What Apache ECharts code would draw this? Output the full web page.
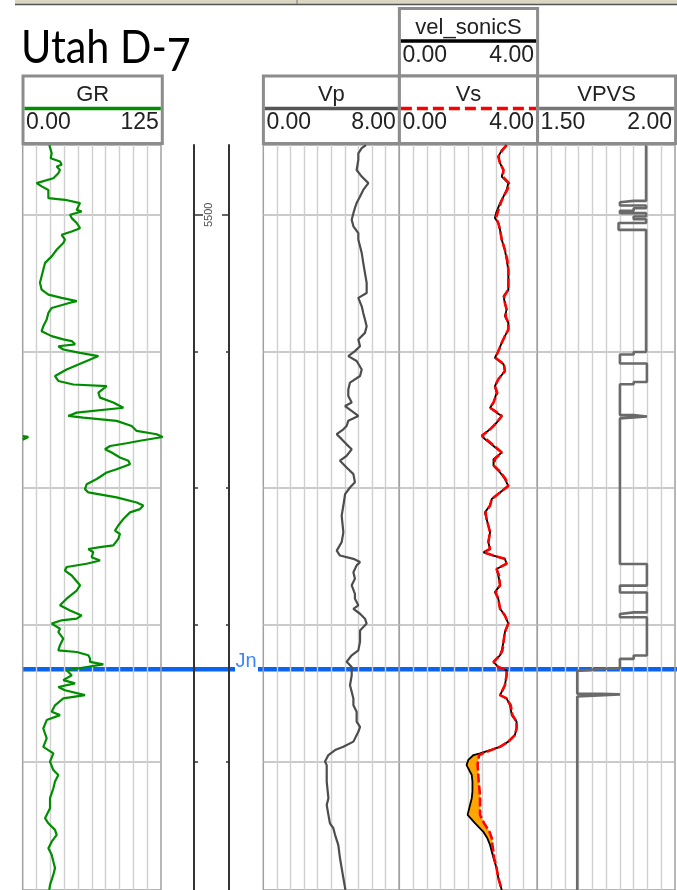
<!DOCTYPE html>
<html><head><meta charset="utf-8">
<script src="https://cdn.jsdelivr.net/npm/echarts@6/dist/echarts.min.js"></script>
<style>html,body{margin:0;padding:0;background:#fff}#c{width:677px;height:890px}</style>
</head><body><div id="c"></div>
<script>
// ---------------- DATA ----------------
const depthGridLines = [5500, 5550, 5600, 5650, 5700];
const depthLabels = [5500];
const tops = [{ name: 'Jn', depth: 5666.3 }];

const grScale = [0, 125], vpScale = [0, 8], vsScale = [0, 4], vpvsScale = [1.5, 2.0];
const grScaleLabels = ['0.00', '125'];
const vpScaleLabels = ['0.00', '8.00'];
const vsScaleLabels = ['0.00', '4.00'];
const velScaleLabels = ['0.00', '4.00'];
const vpvsScaleLabels = ['1.50', '2.00'];

const grDepth = [5474.5,5475.0,5477.5,5479.3,5480.5,5481.7,5482.3,5483.6,5484.8,5486.6,5488.4,5489.6,5490.9,5493.9,5494.5,5495.7,5496.9,5498.2,5498.8,5500.0,5501.2,5503.0,5504.9,5506.1,5507.3,5509.1,5510.3,5512.8,5515.2,5517.6,5520.1,5522.5,5524.9,5527.4,5529.2,5530.4,5531.6,5532.2,5534.1,5535.9,5538.3,5540.8,5542.6,5544.4,5545.6,5546.2,5547.4,5548.1,5549.3,5550.5,5551.7,5553.5,5556.6,5559.0,5560.8,5562.1,5562.7,5565.1,5566.9,5568.7,5570.6,5572.4,5573.6,5574.2,5575.4,5577.3,5579.1,5580.3,5581.3,5582.7,5583.6,5584.6,5585.8,5587.0,5588.8,5590.0,5591.3,5593.1,5594.3,5596.7,5598.6,5600.4,5601.6,5603.4,5605.3,5606.4,5607.7,5608.9,5611.3,5613.7,5615.6,5616.8,5618.6,5621.0,5621.6,5622.3,5623.5,5625.3,5626.5,5627.7,5628.9,5630.2,5632.0,5635.6,5637.5,5640.5,5642.9,5644.8,5646.6,5647.8,5648.4,5649.6,5651.5,5652.7,5655.1,5657.5,5659.4,5660.0,5661.2,5662.4,5663.6,5664.5,5665.5,5666.7,5668.5,5670.3,5671.5,5672.8,5674.0,5675.8,5677.0,5679.5,5681.9,5683.1,5684.9,5688.0,5691.6,5694.7,5697.1,5700.1,5703.2,5705.0,5707.4,5709.9,5713.5,5717.2,5720.8,5722.7,5725.1,5726.9,5729.4,5731.8,5734.2,5736.7,5739.1,5741.5,5745.2,5747.1];
const grValues = [24.1,24.7,26.2,25.3,33.7,35.2,30.7,33.7,32.2,27.7,12.6,17.1,23.2,23.2,38.2,51.8,50.3,48.8,53.3,42.8,44.3,48.8,51.8,44.3,35.2,38.2,36.7,30.7,26.2,20.2,18.6,17.1,15.6,17.1,23.2,35.2,48.8,42.8,26.2,23.2,21.7,18.6,17.1,26.2,36.7,44.3,47.3,32.2,36.7,51.8,68.4,57.8,39.7,29.2,32.2,45.8,75.9,68.4,69.9,81.9,91.0,48.8,41.2,54.8,84.9,98.5,103.0,121.1,126.5,106.0,94.0,78.9,74.4,80.4,87.9,95.5,97.0,84.9,75.9,66.9,57.8,56.3,59.3,84.9,103.0,109.0,106.0,97.0,91.0,86.4,83.4,87.9,86.4,81.9,69.9,59.3,63.8,62.3,69.9,57.8,39.7,38.2,44.3,51.8,48.8,39.7,33.7,42.8,53.3,48.8,35.2,26.2,33.7,32.2,36.7,33.7,32.2,48.8,59.3,60.8,60.8,72.9,57.8,39.7,44.3,36.7,47.3,32.2,38.2,56.3,36.7,29.2,26.2,33.7,21.7,18.6,21.7,18.6,27.7,24.7,27.7,32.2,29.2,27.7,24.7,24.7,20.2,23.2,29.2,30.7,26.2,23.2,26.2,27.7,29.2,27.7,24.7,24.0];
// GR wrapped beyond 125 (backup scale)
const grWrapDepth = [5581.0, 5581.3, 5582.0, 5582.3];
const grWrapValues = [0, 5, 5, 0];

const vpDepth = [5474.5,5475.6,5477.5,5479.9,5483.6,5486.0,5488.4,5490.9,5493.3,5495.7,5497.5,5499.4,5501.8,5504.2,5506.7,5509.1,5511.5,5514.0,5517.6,5521.3,5524.9,5528.6,5530.4,5533.5,5535.9,5538.3,5540.8,5543.2,5545.6,5548.1,5549.9,5551.7,5553.5,5556.6,5559.0,5561.4,5563.9,5566.3,5568.7,5570.0,5573.6,5575.4,5577.3,5578.5,5580.3,5582.1,5584.0,5585.8,5588.2,5590.0,5592.5,5594.9,5597.9,5599.8,5602.2,5606.4,5610.1,5616.2,5619.8,5622.9,5624.7,5625.9,5627.1,5628.3,5630.8,5633.2,5635.6,5638.7,5640.5,5642.9,5644.2,5646.0,5647.8,5649.6,5652.1,5656.3,5659.4,5661.2,5663.6,5665.5,5668.5,5672.2,5677.0,5679.5,5681.9,5685.5,5687.4,5689.2,5692.8,5694.7,5695.9,5697.7,5700.1,5701.4,5707.4,5713.5,5716.0,5719.6,5722.7,5724.5,5726.9,5730.6,5735.4,5739.1,5742.7,5747.1];
const vpValues = [6.04,5.79,5.59,5.59,5.49,5.79,6.18,5.88,5.69,5.49,5.39,5.30,5.20,5.30,5.59,5.59,5.69,5.79,5.88,5.98,6.08,6.08,5.59,5.79,5.88,5.98,6.08,5.98,5.59,5.69,5.39,5.00,5.49,5.79,5.69,5.10,5.00,5.00,5.20,4.81,5.59,5.00,4.90,4.71,4.32,4.61,4.90,5.20,4.90,4.51,4.90,5.30,5.39,5.10,4.81,4.71,4.61,4.71,4.61,4.32,4.51,5.30,5.69,5.49,5.30,5.39,5.20,5.39,5.39,5.59,5.30,5.69,5.98,6.08,5.69,5.69,5.59,5.20,4.90,5.20,5.20,5.10,5.30,5.30,5.49,5.49,5.69,5.59,5.30,4.71,4.22,3.83,3.63,3.73,3.73,3.83,3.73,3.83,3.92,4.12,4.22,4.41,4.51,4.61,4.71,4.83];

const vsDepth = [5474.5,5476.3,5478.7,5481.1,5483.6,5486.0,5488.4,5490.9,5493.3,5495.7,5498.8,5501.2,5503.0,5505.5,5509.1,5512.8,5516.4,5520.1,5523.7,5527.4,5529.8,5532.2,5534.7,5537.1,5539.5,5542.0,5544.4,5546.8,5549.9,5552.3,5554.7,5557.2,5560.2,5562.7,5565.1,5568.7,5570.6,5572.4,5573.6,5576.1,5578.5,5580.9,5582.1,5584.6,5587.0,5589.4,5591.9,5594.3,5596.7,5599.2,5601.6,5604.0,5606.4,5608.9,5611.3,5613.7,5616.2,5619.8,5622.3,5623.5,5624.7,5625.9,5627.7,5629.6,5632.0,5635.6,5638.1,5640.5,5644.2,5646.6,5649.6,5652.7,5656.3,5659.4,5661.2,5663.6,5665.5,5666.7,5668.5,5672.2,5675.8,5677.0,5679.5,5683.1,5685.5,5688.0,5690.4,5692.8,5694.7,5695.9,5697.1,5697.7,5699.5,5701.4,5705.0,5707.4,5711.1,5713.5,5716.0,5719.6,5722.7,5725.7,5728.1,5730.6,5735.4,5739.1,5742.7,5747.1];
const velSonicS = [3.11,2.97,2.87,2.92,3.02,2.97,3.16,3.11,3.02,2.92,2.82,2.77,2.87,2.92,2.97,3.06,3.11,3.16,3.16,3.16,3.02,3.06,3.11,3.06,3.16,3.16,3.06,2.97,2.87,2.77,3.02,3.06,2.87,2.77,2.82,2.73,2.63,2.82,2.97,2.82,2.63,2.39,2.48,2.73,2.97,2.73,2.73,2.92,3.06,3.16,2.92,2.68,2.63,2.48,2.53,2.58,2.63,2.58,2.63,2.44,2.73,3.06,3.11,2.82,2.87,2.92,2.77,2.87,2.92,3.06,3.16,3.06,3.02,2.97,2.92,2.73,2.87,3.11,3.11,3.06,2.92,3.11,3.21,3.26,3.40,3.40,3.35,3.16,2.92,2.63,2.34,2.15,2.00,1.95,2.10,2.12,2.12,2.10,2.05,1.98,2.20,2.43,2.55,2.63,2.73,2.82,2.87,2.97];
const vsValues = [3.11,2.99,2.87,2.92,3.02,3.00,3.18,3.13,3.02,2.94,2.86,2.80,2.87,2.92,2.97,3.06,3.13,3.16,3.16,3.16,3.04,3.06,3.11,3.08,3.16,3.16,3.06,2.97,2.87,2.79,3.04,3.06,2.87,2.77,2.84,2.73,2.63,2.84,2.97,2.82,2.63,2.39,2.52,2.75,2.97,2.77,2.75,2.94,3.08,3.16,2.92,2.68,2.63,2.50,2.53,2.58,2.63,2.58,2.63,2.44,2.73,3.06,3.11,2.82,2.89,2.92,2.79,2.87,2.92,3.06,3.16,3.06,3.02,2.99,2.92,2.73,2.87,3.11,3.11,3.06,2.92,3.11,3.23,3.28,3.40,3.40,3.35,3.16,2.92,2.66,2.42,2.32,2.28,2.27,2.29,2.30,2.33,2.34,2.34,2.34,2.46,2.61,2.68,2.70,2.75,2.82,2.87,2.97];

const vpvsDepth = [5474.5,5494.9,5494.9,5495.4,5495.4,5496.6,5496.6,5497.6,5497.6,5498.5,5498.5,5499.4,5499.4,5500.6,5500.6,5501.6,5501.6,5503.0,5503.0,5505.5,5505.5,5550.2,5550.2,5551.1,5551.1,5554.4,5554.4,5561.2,5561.2,5562.0,5562.0,5573.3,5573.3,5573.8,5573.8,5574.5,5574.5,5627.8,5627.8,5635.7,5635.7,5638.2,5638.2,5645.5,5645.5,5646.1,5646.1,5647.3,5647.3,5661.3,5661.3,5662.5,5662.5,5666.0,5666.2,5666.6,5666.9,5675.3,5675.3,5675.5,5675.5,5676.0,5676.3,5747.1];
const vpvsValues = [1.895,1.895,1.85,1.85,1.80,1.80,1.895,1.895,1.85,1.85,1.80,1.80,1.895,1.895,1.85,1.85,1.895,1.895,1.795,1.795,1.895,1.895,1.85,1.85,1.80,1.80,1.898,1.898,1.85,1.85,1.80,1.80,1.85,1.85,1.898,1.898,1.80,1.80,1.898,1.898,1.80,1.80,1.898,1.898,1.85,1.85,1.80,1.80,1.898,1.898,1.85,1.85,1.80,1.80,1.728,1.728,1.645,1.645,1.728,1.728,1.80,1.80,1.645,1.645];

// ---------------- LAYOUT ----------------
const TOP = 145, PLOT_H = 747;
const depthMin = 5474.45, depthMax = 5747.1;
const tracks = [
  { left: 22.7, width: 138.3, scale: grScale, split: 12.5, border: true },
  { left: 194, width: 35, scale: [0, 1], split: null, border: false },
  { left: 263.3, width: 136, scale: vpScale, split: 0.8, border: true },
  { left: 399.3, width: 138, scale: vsScale, split: 0.4, border: true },
  { left: 537.3, width: 137.7, scale: vpvsScale, split: 0.05, border: true },
  { left: 0, width: 677, scale: [0, 1], split: null, border: false }
];

const grid = tracks.map(t => ({
  left: t.left, width: t.width, top: TOP, height: PLOT_H,
  show: t.border, borderColor: '#a0a0a0', borderWidth: 1.5, backgroundColor: 'transparent'
}));

const xAxis = tracks.map((t, i) => t.split ? {
  gridIndex: i, type: 'value', min: t.scale[0], max: t.scale[1], interval: t.split,
  axisLine: { show: false }, axisTick: { show: false }, axisLabel: { show: false },
  splitLine: { show: true, showMinLine: false, showMaxLine: false, lineStyle: { color: '#cfcfcf', width: 1.4 } }
} : { gridIndex: i, type: 'value', min: t.scale[0], max: t.scale[1], show: false });

function depthAxis(gi, extra) {
  return Object.assign({
    gridIndex: gi, type: 'value', inverse: true, min: depthMin, max: depthMax,
    axisLine: { show: false }, axisLabel: { show: false },
    axisTick: { show: false, customValues: depthGridLines },
    splitLine: { show: true, lineStyle: { color: '#b9b9b9', width: 1.6 } }
  }, extra || {});
}
const yAxis = [
  depthAxis(0),                                  // 0 GR
  depthAxis(1, { position: 'left', axisLine: { show: true, onZero: false, lineStyle: { color: '#333', width: 2 } },
    axisTick: { show: true, inside: true, length: 4, customValues: depthGridLines, lineStyle: { color: '#333', width: 1.5 } }, splitLine: { show: false } }), // 1
  depthAxis(1, { position: 'right', axisLine: { show: true, onZero: false, lineStyle: { color: '#333', width: 2 } },
    axisTick: { show: true, inside: true, length: 3, customValues: depthGridLines, lineStyle: { color: '#333', width: 1.5 } }, splitLine: { show: false } }), // 2
  depthAxis(1, { position: 'left', axisTick: { show: true, inside: true, length: 9, customValues: depthLabels, lineStyle: { color: '#333', width: 1.5 } }, splitLine: { show: false } }), // 3
  depthAxis(1, { position: 'right', axisTick: { show: true, inside: true, length: 7, customValues: depthLabels, lineStyle: { color: '#333', width: 1.5 } }, splitLine: { show: false } }), // 4
  depthAxis(2), // 5 Vp
  depthAxis(3), // 6 Vs
  depthAxis(4), // 7 VPVS
  depthAxis(5, { show: false, splitLine: { show: false } }) // 8 full
];

const pairs = (vals, deps) => deps.map((d, i) => [vals[i], d]);

const series = [
  { type: 'line', name: 'GR', xAxisIndex: 0, yAxisIndex: 0, data: pairs(grValues, grDepth), symbol: 'none',
    lineStyle: { color: '#008e00', width: 2.2 }, z: 3 },
  { type: 'line', name: 'GR wrap', xAxisIndex: 0, yAxisIndex: 0, data: pairs(grWrapValues, grWrapDepth), symbol: 'none',
    lineStyle: { color: '#008e00', width: 2.5 }, z: 3 },
  { type: 'scatter', name: 'depth', xAxisIndex: 1, yAxisIndex: 1, data: depthLabels.map(d => [0.5, d]), symbolSize: 1,
    itemStyle: { color: 'rgba(0,0,0,0)' },
    label: { show: true, position: 'inside', rotate: 90, offset: [0, -3], formatter: p => String(p.value[1]),
      fontFamily: 'Liberation Sans', fontSize: 11, color: '#222' } },
  { type: 'line', name: 'Vp', xAxisIndex: 2, yAxisIndex: 5, data: pairs(vpValues, vpDepth), symbol: 'none',
    lineStyle: { color: '#4d4d4d', width: 2.2 }, z: 3 },
  { type: 'custom', name: 'fill', xAxisIndex: 3, yAxisIndex: 6,
    data: vsDepth.map((d, i) => [d, velSonicS[i], vsValues[i]]),
    encode: { x: [1, 2], y: 0 }, z: 2,
    renderItem: (params, api) => {
      const i = params.dataIndex;
      if (i >= vsDepth.length - 1) return null;
      const pts = [
        api.coord([velSonicS[i], vsDepth[i]]), api.coord([velSonicS[i + 1], vsDepth[i + 1]]),
        api.coord([vsValues[i + 1], vsDepth[i + 1]]), api.coord([vsValues[i], vsDepth[i]])
      ];
      return { type: 'polygon', shape: { points: pts }, style: { fill: '#ffa500', stroke: '#ffa500', lineWidth: 0.6 } };
    } },
  { type: 'line', name: 'vel_sonicS', xAxisIndex: 3, yAxisIndex: 6, data: pairs(velSonicS, vsDepth), symbol: 'none',
    lineStyle: { color: '#000', width: 1.8 }, z: 3 },
  { type: 'line', name: 'Vs', xAxisIndex: 3, yAxisIndex: 6, data: pairs(vsValues, vsDepth), symbol: 'none',
    lineStyle: { color: '#ff0000', width: 2.6, type: [9, 3] }, z: 4 },
  { type: 'line', name: 'VPVS', xAxisIndex: 4, yAxisIndex: 7, data: pairs(vpvsValues, vpvsDepth), symbol: 'none',
    lineStyle: { color: '#6a6a6a', width: 2.6 }, z: 3 },
  { type: 'custom', name: 'tops', xAxisIndex: 5, yAxisIndex: 8, data: tops.map(t => [t.depth]),
    encode: { y: 0 }, z: -1,
    renderItem: (params, api) => {
      const y = api.coord([0, api.value(0)])[1];
      const st = { stroke: '#0b63f2', lineWidth: 4.5 };
      return { type: 'group', children: [
        { type: 'line', shape: { x1: 22, y1: y, x2: 235, y2: y }, style: st },
        { type: 'line', shape: { x1: 258, y1: y, x2: 677, y2: y }, style: st },
        { type: 'text', style: { text: tops[params.dataIndex].name, x: 235.5, y: y + 2, verticalAlign: 'bottom',
          font: '20px "Liberation Sans"', fill: '#3c86ff' } }
      ] };
    } }
];

// ---------------- HEADERS (decoration) ----------------
const headers = [
  { name: 'vel_sonicS', labels: velScaleLabels, x: 399.4, w: 138.2, top: 8.5, color: '#000000' },
  { name: 'GR', labels: grScaleLabels, x: 23, w: 139.3, top: 76, color: '#008e00' },
  { name: 'Vp', labels: vpScaleLabels, x: 263.4, w: 136, top: 76, color: '#555555' },
  { name: 'Vs', labels: vsScaleLabels, x: 399.4, w: 138.2, top: 76, color: '#ff0000', dash: [11, 5] },
  { name: 'VPVS', labels: vpvsScaleLabels, x: 537.6, w: 138, top: 76, color: '#777777' }
];
const graphic = [
  { type: 'rect', shape: { x: 15, y: 0, width: 662, height: 4 }, style: { fill: '#dcd7c2' } },
  { type: 'line', shape: { x1: 15, y1: 4.5, x2: 677, y2: 4.5 }, style: { stroke: '#555', lineWidth: 1.5 } },
  { type: 'line', shape: { x1: 297, y1: 0, x2: 297, y2: 4 }, style: { stroke: '#777', lineWidth: 1 } }
];
headers.forEach(h => {
  graphic.push({ type: 'rect', shape: { x: h.x, y: h.top, width: h.w, height: 67.5 },
    style: { fill: '#fff', stroke: '#8c8c8c', lineWidth: 3 } });
  graphic.push({ type: 'text', style: { text: h.name, x: h.x + h.w / 2, y: h.top + 19, align: 'center', verticalAlign: 'middle',
    font: '22px "Liberation Sans"', fill: '#222' } });
  graphic.push({ type: 'line', shape: { x1: h.x + 1.5, y1: h.top + 32.5, x2: h.x + h.w - 1.5, y2: h.top + 32.5 },
    style: { stroke: h.color, lineWidth: 3.5, lineDash: h.dash || null } });
  graphic.push({ type: 'text', style: { text: h.labels[0], x: h.x + 3, y: h.top + 47, align: 'left', verticalAlign: 'middle',
    font: '23px "Liberation Sans"', fill: '#222' } });
  graphic.push({ type: 'text', style: { text: h.labels[1], x: h.x + h.w - 3.5, y: h.top + 47, align: 'right', verticalAlign: 'middle',
    font: '23px "Liberation Sans"', fill: '#222' } });
});
// Title
const titleFont = '47px Lato';
const tScale = 0.88;
const ctx = document.createElement('canvas').getContext('2d');
ctx.font = titleFont;
const wMain = ctx.measureText('Utah D-').width * tScale;
graphic.push({ type: 'text', x: 21, y: 24, scaleX: tScale, style: { text: 'Utah D-', x: 0, y: 0, verticalAlign: 'top', font: titleFont, fill: '#000' } });
graphic.push({ type: 'text', x: 21 + wMain, y: 32, scaleX: tScale, style: { text: '7', x: 0, y: 0, verticalAlign: 'top', font: titleFont, fill: '#000' } });

const chart = echarts.init(document.getElementById('c'), null, { renderer: 'canvas' });
chart.setOption({ animation: false, backgroundColor: '#fff', grid, xAxis, yAxis, series, graphic });
</script></body></html>
